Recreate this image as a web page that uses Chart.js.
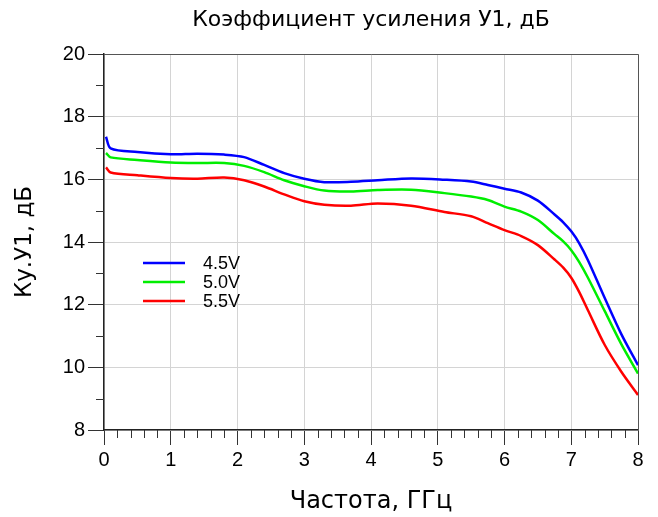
<!DOCTYPE html>
<html>
<head>
<meta charset="utf-8">
<script src="https://cdn.jsdelivr.net/npm/chart.js@4.4.1/dist/chart.umd.min.js"></script>
<style>
  html, body { margin: 0; padding: 0; background: #fff; }
</style>
</head>
<body>
<canvas id="gain-chart" width="658" height="517"></canvas>
<script>
// частота, ГГц
const freqs  = [0.03, 0.1, 0.5, 1.0, 1.4, 1.8, 2.1, 2.4, 2.7, 3.0, 3.3, 3.7, 4.1, 4.6, 5.1, 5.5, 5.75, 6.0, 6.25, 6.5, 6.75, 6.88, 7.0, 7.12, 7.25, 7.5, 7.75, 8.0]
// Ку, дБ
const gain45 = [17.36, 16.99, 16.87, 16.80, 16.82, 16.79, 16.71, 16.46, 16.20, 16.02, 15.91, 15.92, 15.97, 16.03, 15.99, 15.93, 15.82, 15.70, 15.58, 15.32, 14.88, 14.63, 14.34, 13.96, 13.42, 12.22, 11.06, 10.07]
const gain50 = [16.84, 16.70, 16.62, 16.54, 16.52, 16.52, 16.43, 16.23, 15.97, 15.78, 15.64, 15.61, 15.66, 15.67, 15.56, 15.45, 15.34, 15.13, 14.97, 14.70, 14.25, 14.02, 13.74, 13.36, 12.86, 11.80, 10.74, 9.80]
const gain55 = [16.38, 16.22, 16.13, 16.04, 16.02, 16.06, 15.97, 15.77, 15.52, 15.30, 15.19, 15.16, 15.23, 15.16, 14.96, 14.82, 14.60, 14.38, 14.19, 13.90, 13.44, 13.18, 12.86, 12.40, 11.82, 10.72, 9.86, 9.12]

const seriesLabels = ["4.5V", "5.0V", "5.5V"]
const seriesColors = ["#0000ff", "#00ee00", "#ff0000"]

const xRange = [0, 8]
const yRange = [8, 20]

const toPoints = (vals) => freqs.map((f, i) => ({ x: f, y: vals[i] }))

// малые риски и рамка
const minorTicks = {
  id: 'minorTicks',
  afterDraw(chart) {
    const { ctx, chartArea: a, scales: { x, y } } = chart
    ctx.save()
    ctx.strokeStyle = '#333'
    ctx.lineWidth = 1
    ctx.beginPath()
    for (let i = 0; i <= 40; i++) {
      if (i % 5 === 0) continue
      const px = Math.round(x.getPixelForValue(i * 0.2)) + 0.5
      ctx.moveTo(px, a.bottom)
      ctx.lineTo(px, a.bottom + 8)
    }
    for (let v = 9; v < 20; v += 2) {
      const py = Math.round(y.getPixelForValue(v)) + 0.5
      ctx.moveTo(a.left - 8, py)
      ctx.lineTo(a.left, py)
    }
    ctx.stroke()
    ctx.strokeStyle = '#555'
    ctx.beginPath()
    ctx.moveTo(Math.round(a.left), Math.round(a.top) + 0.5)
    ctx.lineTo(Math.round(a.right) + 0.5, Math.round(a.top) + 0.5)
    ctx.lineTo(Math.round(a.right) + 0.5, Math.round(a.bottom))
    ctx.stroke()
    ctx.restore()
  }
}

// легенда внутри поля графика
const innerLegend = {
  id: 'innerLegend',
  afterDraw(chart) {
    const { ctx, chartArea: a } = chart
    ctx.save()
    ctx.font = '18px "Liberation Sans", Arial, sans-serif'
    ctx.textBaseline = 'middle'
    ctx.fillStyle = '#000'
    chart.data.datasets.forEach((ds, i) => {
      const ly = a.top + 209 + i * 19
      ctx.strokeStyle = ds.borderColor
      ctx.lineWidth = 2.5
      ctx.beginPath()
      ctx.moveTo(a.left + 39, ly)
      ctx.lineTo(a.left + 81, ly)
      ctx.stroke()
      ctx.fillText(ds.label, a.left + 99, ly + 1)
    })
    ctx.restore()
  }
}

const tickFont = { family: '"Liberation Sans", Arial, sans-serif', size: 20 }
const titleFamily = '"DejaVu Sans", sans-serif'

new Chart(document.getElementById("gain-chart"), {
  type: 'line',
  data: {
    datasets: [gain45, gain50, gain55].map((vals, i) => ({
      label: seriesLabels[i],
      data: toPoints(vals),
      borderColor: seriesColors[i],
      borderWidth: 2.5,
      pointRadius: 0,
      fill: false,
      tension: 0.3
    }))
  },
  options: {
    responsive: false,
    animation: false,
    devicePixelRatio: 1,
    layout: { padding: { left: 0, right: 20, top: 0, bottom: 0 } },
    plugins: {
      legend: { display: false },
      tooltip: { enabled: false },
      title: {
        display: true,
        fullSize: false,
        text: 'Коэффициент усиления У1, дБ',
        color: '#000',
        font: { family: titleFamily, size: 22, weight: 'normal' },
        padding: { top: 7, bottom: 20.6 }
      }
    },
    scales: {
      x: {
        type: 'linear',
        min: xRange[0],
        max: xRange[1],
        afterFit: (s) => { s.height = 87 },
        ticks: { stepSize: 1, color: '#000', font: tickFont, padding: 3, maxRotation: 0 },
        grid: { color: '#d4d4d4', tickColor: '#333', tickLength: 15, lineWidth: 1 },
        border: { color: '#222', width: 1.5 },
        title: { display: true, text: 'Частота, ГГц', color: '#000', font: { family: titleFamily, size: 24 }, padding: { top: 0, bottom: 1 } }
      },
      y: {
        min: yRange[0],
        max: yRange[1],
        afterFit: (s) => { s.width = 104 },
        ticks: { stepSize: 2, color: '#000', font: tickFont, padding: 3 },
        grid: { color: '#d4d4d4', tickColor: '#333', tickLength: 16, lineWidth: 1 },
        border: { color: '#222', width: 1.5 },
        title: { display: true, text: 'Ку.У1, дБ', color: '#000', font: { family: titleFamily, size: 23 }, padding: { top: 11, bottom: 0 } }
      }
    }
  },
  plugins: [minorTicks, innerLegend]
})
</script>
</body>
</html>
